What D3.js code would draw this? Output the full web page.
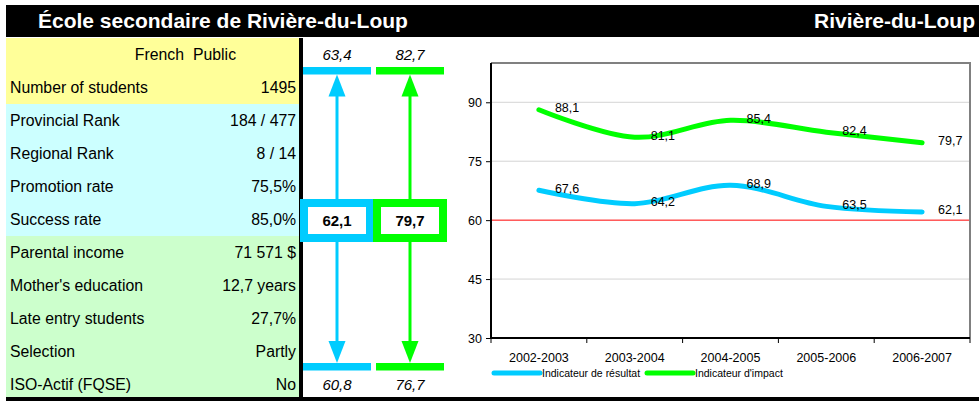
<!doctype html>
<html lang="fr">
<head>
<meta charset="utf-8">
<title>École secondaire de Rivière-du-Loup</title>
<script src="https://cdn.jsdelivr.net/npm/d3@7/dist/d3.min.js"></script>
<style>
  body { margin: 0; background: #fff; }
  svg { display: block; font-family: Arial, "Liberation Sans", sans-serif; }
</style>
</head>
<body>
<script>
// ---- data ----
var schoolName = "École secondaire de Rivière-du-Loup";
var regionName = "Rivière-du-Loup";

var rowLabels = ["", "Number of students", "Provincial Rank", "Regional Rank", "Promotion rate",
                 "Success rate", "Parental income", "Mother's education", "Late entry students",
                 "Selection", "ISO-Actif (FQSE)"];
var rowValues = ["", "1495", "184 / 477", "8 / 14", "75,5%", "85,0%", "71 571 $",
                 "12,7 years", "27,7%", "Partly", "No"];
var rowGroup  = [0, 0, 1, 1, 1, 1, 2, 2, 2, 2, 2];

var years    = ["2002-2003", "2003-2004", "2004-2005", "2005-2006", "2006-2007"];
var resultat = [67.6, 64.2, 68.9, 63.5, 62.1];
var impact   = [88.1, 81.1, 85.4, 82.4, 79.7];
var yTicks   = [30, 45, 60, 75, 90];

var seriesNames = ["Indicateur de résultat", "Indicateur d'impact"];
var upperBound  = [63.4, 82.7];
var currentVal  = [62.1, 79.7];
var lowerBound  = [60.8, 76.7];

// ---- setup ----
var W = 979, H = 401;
var groupFill = ["#FFFF99", "#CCFFFF", "#CCFFCC"];
var seriesColor = ["#00CCFF", "#00FF00"];
var fr = d3.formatLocale({decimal: ",", thousands: " ", grouping: [3], currency: ["", " $"]});
var f1 = fr.format(".1f");

var svg = d3.select("body").append("svg")
    .attr("width", W)
    .attr("height", H);

// title bar
svg.append("rect").attr("x", 6).attr("y", 5).attr("width", W - 6).attr("height", 32).attr("fill", "#000");
svg.append("text").attr("x", 38).attr("y", 28)
    .attr("fill", "#fff").attr("font-weight", "bold").attr("font-size", 21)
    .text(schoolName);
svg.append("text").attr("x", 975).attr("y", 28)
    .attr("fill", "#fff").attr("font-weight", "bold").attr("font-size", 21)
    .attr("text-anchor", "end")
    .text(regionName);

// ---- left table ----
var rowY = d3.scaleBand().domain(d3.range(rowLabels.length)).range([38, 401]);

var rows = svg.append("g").selectAll("g")
    .data(rowLabels)
    .enter().append("g")
    .attr("transform", function(d, i) { return "translate(0," + rowY(i) + ")"; });

rows.append("rect")
    .attr("x", 6).attr("width", 293)
    .attr("height", rowY.bandwidth() + 0.5)
    .attr("fill", function(d, i) { return groupFill[rowGroup[i]]; });

rows.append("text")
    .attr("x", 10).attr("y", rowY.bandwidth() / 2)
    .attr("dy", "0.36em")
    .attr("font-size", 15.8)
    .text(function(d) { return d; });

rows.append("text")
    .attr("x", 296).attr("y", rowY.bandwidth() / 2)
    .attr("dy", "0.36em")
    .attr("text-anchor", "end")
    .attr("font-size", 15.8)
    .text(function(d, i) { return rowValues[i]; });

// header row "French  Public"
svg.append("text").attr("x", 184).attr("y", rowY(0) + rowY.bandwidth() / 2).attr("dy", "0.36em")
    .attr("text-anchor", "end").attr("font-size", 15.8).text("French");
svg.append("text").attr("x", 193).attr("y", rowY(0) + rowY.bandwidth() / 2).attr("dy", "0.36em")
    .attr("font-size", 15.8).text("Public");

// separator line
svg.append("rect").attr("x", 299).attr("y", 38).attr("width", 4).attr("height", 363).attr("fill", "#000");

// ---- arrows block ----
var col = d3.scaleBand().domain(d3.range(seriesNames.length)).range([303, 444]).paddingInner(5 / 73);
var barTop = 67, barBot = 363, barH = 7.5;
var boxY = 199, boxH = 43, headLen = 22, headHalf = 8.5;

var cols = svg.append("g").selectAll("g")
    .data(seriesNames)
    .enter().append("g")
    .attr("transform", function(d, i) { return "translate(" + col(i) + ",0)"; });

var bw = col.bandwidth(), cx = bw / 2;

cols.append("rect").attr("x", 0).attr("y", barTop).attr("width", bw).attr("height", barH)
    .attr("fill", function(d, i) { return seriesColor[i]; });
cols.append("rect").attr("x", 0).attr("y", barBot).attr("width", bw).attr("height", barH)
    .attr("fill", function(d, i) { return seriesColor[i]; });

// shafts
cols.append("line")
    .attr("x1", cx).attr("x2", cx)
    .attr("y1", barTop + barH + headLen - 1).attr("y2", boxY)
    .attr("stroke", function(d, i) { return seriesColor[i]; }).attr("stroke-width", 3);
cols.append("line")
    .attr("x1", cx).attr("x2", cx)
    .attr("y1", boxY + boxH).attr("y2", barBot - headLen + 1)
    .attr("stroke", function(d, i) { return seriesColor[i]; }).attr("stroke-width", 3);

// heads
cols.append("path")
    .attr("d", "M" + cx + "," + (barTop + barH) + "L" + (cx - headHalf) + "," + (barTop + barH + headLen) +
               "L" + (cx + headHalf) + "," + (barTop + barH + headLen) + "Z")
    .attr("fill", function(d, i) { return seriesColor[i]; });
cols.append("path")
    .attr("d", "M" + cx + "," + barBot + "L" + (cx - headHalf) + "," + (barBot - headLen) +
               "L" + (cx + headHalf) + "," + (barBot - headLen) + "Z")
    .attr("fill", function(d, i) { return seriesColor[i]; });

// current value box
cols.append("rect")
    .attr("x", cx - 33).attr("y", boxY + 4)
    .attr("width", 66).attr("height", boxH - 8)
    .attr("fill", "#fff")
    .attr("stroke", function(d, i) { return seriesColor[i]; })
    .attr("stroke-width", 8);

cols.append("text")
    .attr("x", cx).attr("y", boxY + boxH / 2).attr("dy", "0.36em")
    .attr("text-anchor", "middle").attr("font-weight", "bold").attr("font-size", 15)
    .text(function(d, i) { return f1(currentVal[i]); });

cols.append("text")
    .attr("x", cx).attr("y", 60)
    .attr("text-anchor", "middle").attr("font-style", "italic").attr("font-size", 15)
    .text(function(d, i) { return f1(upperBound[i]); });

cols.append("text")
    .attr("x", cx).attr("y", 390)
    .attr("text-anchor", "middle").attr("font-style", "italic").attr("font-size", 15)
    .text(function(d, i) { return f1(lowerBound[i]); });

// ---- line chart ----
var plotLeft = 491, plotRight = 970, plotTop = 63, plotBottom = 338;

var x = d3.scaleBand().domain(years).range([plotLeft, plotRight]);
var y = d3.scaleLinear().domain([30, 100]).range([plotBottom, plotTop]);
var xc = function(d) { return x(d) + x.bandwidth() / 2; };

var chart = svg.append("g");

// gridlines
chart.selectAll(".grid")
    .data(yTicks.slice(1))
    .enter().append("line")
    .attr("x1", plotLeft).attr("x2", plotRight)
    .attr("y1", function(d) { return y(d); })
    .attr("y2", function(d) { return y(d); })
    .attr("stroke", function(d) { return d === 60 ? "#FF0000" : "#D4D4D4"; })
    .attr("stroke-width", 1);

// frame
chart.append("path")
    .attr("d", "M" + plotLeft + "," + plotTop + "H" + plotRight + "V" + plotBottom)
    .attr("fill", "none").attr("stroke", "#808080").attr("stroke-width", 2);

// y axis
var yAxis = chart.append("g")
    .attr("transform", "translate(" + plotLeft + ",0)")
    .call(d3.axisLeft(y).tickValues(yTicks).tickSize(5).tickPadding(4).tickFormat(d3.format("d")));
yAxis.select(".domain").attr("stroke", "#000").attr("stroke-width", 2)
    .attr("d", "M0," + plotTop + "V" + plotBottom);
yAxis.selectAll("text").attr("font-size", 12.5).attr("font-family", null).attr("fill", "#000");

// x axis
var xAxis = chart.append("g")
    .attr("transform", "translate(0," + plotBottom + ")")
    .call(d3.axisBottom(x).tickSize(0).tickPadding(15));
xAxis.select(".domain").attr("stroke", "#000").attr("stroke-width", 2)
    .attr("d", "M" + plotLeft + ",0H" + plotRight);
xAxis.selectAll("text").attr("font-size", 12.5).attr("font-family", null).attr("fill", "#000");
xAxis.selectAll(".sep")
    .data(years.concat(["end"]))
    .enter().append("line")
    .attr("x1", function(d, i) { return i < years.length ? x(d) : plotRight; })
    .attr("x2", function(d, i) { return i < years.length ? x(d) : plotRight; })
    .attr("y1", 0).attr("y2", 5)
    .attr("stroke", "#000");

// lines
var series = [resultat, impact];
var line = d3.line()
    .x(function(d, i) { return xc(years[i]); })
    .y(function(d) { return y(d); })
    .curve(d3.curveCatmullRom.alpha(0.5));

chart.selectAll(".series")
    .data(series)
    .enter().append("path")
    .attr("d", line)
    .attr("fill", "none")
    .attr("stroke", function(d, i) { return seriesColor[i]; })
    .attr("stroke-width", 5)
    .attr("stroke-linecap", "round");

series.forEach(function(s) {
    chart.selectAll(null)
        .data(s)
        .enter().append("text")
        .attr("x", function(d, i) { return xc(years[i]) + 16; })
        .attr("y", function(d) { return y(d) - 2; })
        .attr("dy", "0.36em")
        .attr("font-size", 12.5)
        .text(function(d) { return f1(d); });
});

// legend
var legend = chart.selectAll(".legend")
    .data(seriesNames)
    .enter().append("g")
    .attr("transform", function(d, i) { return "translate(" + (494 + i * 153) + ",373)"; });
legend.append("line")
    .attr("x1", 0).attr("x2", 46)
    .attr("stroke", function(d, i) { return seriesColor[i]; })
    .attr("stroke-width", 5).attr("stroke-linecap", "round");
legend.append("text")
    .attr("x", 48).attr("dy", "0.36em")
    .attr("font-size", 10.5)
    .text(function(d) { return d; });

// bottom rule
svg.append("rect").attr("x", 6).attr("y", 397).attr("width", W - 6).attr("height", 4).attr("fill", "#000");
</script>
</body>
</html>
